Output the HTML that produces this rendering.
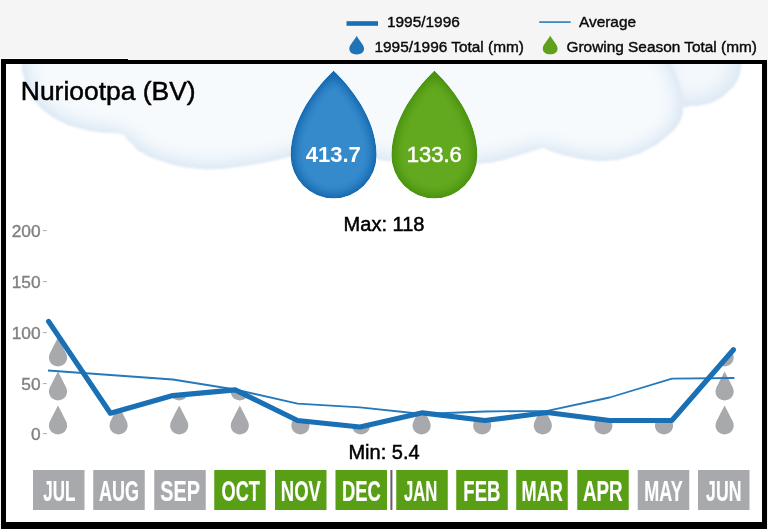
<!DOCTYPE html>
<html lang="en">
<head>
<meta charset="utf-8">
<title>Nuriootpa (BV) rainfall</title>
<style>
html,body{margin:0;padding:0;background:#f5f5f5;}
body{width:768px;height:529px;overflow:hidden;position:relative;font-family:"Liberation Sans",Arial,Helvetica,sans-serif;}
svg{position:absolute;left:0;top:0;display:block;}
text{font-family:"Liberation Sans",Arial,Helvetica,sans-serif;}
.lg{font-size:15.4px;fill:#0a0a0a;stroke:#0a0a0a;stroke-width:0.4px;}
.ax{font-size:16.5px;fill:#808080;stroke:#808080;stroke-width:0.35px;text-anchor:end;}
.mo{font-size:29px;font-weight:bold;fill:#fff;stroke:#fff;stroke-width:0.2px;}
.bk{fill:#000;stroke:#000;stroke-width:0.5px;}
</style>
</head>
<body>
<svg width="768" height="529" viewBox="0 0 768 529">
<defs>
<filter id="cloud" x="-5%" y="-20%" width="110%" height="140%" color-interpolation-filters="sRGB">
<feGaussianBlur in="SourceAlpha" stdDeviation="13" result="blur"/>
<feComponentTransfer in="blur" result="t"><feFuncA type="linear" slope="2.1" intercept="-1.05"/></feComponentTransfer>
<feFlood flood-color="#f6fafd" result="innerc"/>
<feComposite in="innerc" in2="t" operator="in" result="innerLayer"/>
<feFlood flood-color="#dfeaf5" result="rimc"/>
<feComposite in="rimc" in2="SourceAlpha" operator="in" result="rimLayer"/>
<feMerge result="m"><feMergeNode in="rimLayer"/><feMergeNode in="innerLayer"/></feMerge>
<feComposite in="m" in2="SourceAlpha" operator="in" result="c"/>
<feGaussianBlur in="c" stdDeviation="1"/>
</filter>
<filter id="cloudE" x="-30%" y="-30%" width="160%" height="160%" color-interpolation-filters="sRGB">
<feGaussianBlur in="SourceAlpha" stdDeviation="14" result="blur"/>
<feComponentTransfer in="blur" result="t"><feFuncA type="linear" slope="2.1" intercept="-1.05"/></feComponentTransfer>
<feFlood flood-color="#f3f8fc" result="innerc"/>
<feComposite in="innerc" in2="t" operator="in" result="innerLayer"/>
<feFlood flood-color="#dfeaf5" result="rimc"/>
<feComposite in="rimc" in2="SourceAlpha" operator="in" result="rimLayer"/>
<feMerge result="m"><feMergeNode in="rimLayer"/><feMergeNode in="innerLayer"/></feMerge>
<feComposite in="m" in2="SourceAlpha" operator="in" result="c"/>
<feGaussianBlur in="c" stdDeviation="1"/>
</filter>
<filter id="fb" x="-10%" y="-10%" width="120%" height="120%" color-interpolation-filters="sRGB">
<feGaussianBlur in="SourceAlpha" stdDeviation="8" result="blur"/>
<feComponentTransfer in="blur" result="t"><feFuncA type="linear" slope="2.2" intercept="-1.1"/></feComponentTransfer>
<feFlood flood-color="#358acc" result="innerc"/>
<feComposite in="innerc" in2="t" operator="in" result="innerLayer"/>
<feMerge result="m"><feMergeNode in="SourceGraphic"/><feMergeNode in="innerLayer"/></feMerge>
<feComposite in="m" in2="SourceAlpha" operator="in"/>
</filter>
<filter id="fg" x="-10%" y="-10%" width="120%" height="120%" color-interpolation-filters="sRGB">
<feGaussianBlur in="SourceAlpha" stdDeviation="8" result="blur"/>
<feComponentTransfer in="blur" result="t"><feFuncA type="linear" slope="2.2" intercept="-1.1"/></feComponentTransfer>
<feFlood flood-color="#63a91f" result="innerc"/>
<feComposite in="innerc" in2="t" operator="in" result="innerLayer"/>
<feMerge result="m"><feMergeNode in="SourceGraphic"/><feMergeNode in="innerLayer"/></feMerge>
<feComposite in="m" in2="SourceAlpha" operator="in"/>
</filter>
<clipPath id="inner"><rect x="6" y="64" width="756" height="458"/></clipPath>
<clipPath id="area"><polygon points="48.0,321.0 110.4,413.2 172.8,395.6 235.2,389.8 297.6,420.5 360.0,427.0 422.4,412.8 484.8,420.5 547.2,412.5 609.6,420.5 672.0,420.3 734.4,350.0 735.4,350.0 735.4,440 48.0,440"/></clipPath>
</defs>
<rect x="0" y="0" width="768" height="529" fill="#f5f5f5"/>
<rect x="0" y="58" width="128" height="1" fill="#fff"/>
<rect x="1" y="60" width="766" height="469" fill="#000"/>
<rect x="1" y="59" width="127" height="2" fill="#000"/>
<rect x="6" y="64" width="756" height="458" fill="#fff"/>
<g clip-path="url(#inner)"><path d="M660,0 L660,40 C660.7,53.3 658.7,60.0 662.0,80.0 C665.3,100.0 663.0,91.0 670.0,100.0 C677.0,109.0 675.9,104.8 683.0,106.9 C690.1,109.0 684.4,107.0 691.3,106.3 C698.2,105.6 695.5,106.7 703.8,104.8 C712.1,102.9 708.0,105.1 716.3,100.6 C724.6,96.1 721.8,97.9 728.8,91.3 C735.8,84.7 733.0,88.5 737.2,80.8 C741.4,73.1 739.8,73.8 741.3,68.3 C742.8,62.8 741.5,73.6 741.6,64.2 C741.7,54.8 741.6,48.1 741.6,40.0 L741.6,0 Z" fill="#dbe7f2" filter="url(#cloudE)"/><path d="M21.6,0 L21.6,40 C21.6,48.1 20.9,52.0 21.6,64.2 C22.3,76.4 21.6,68.4 23.7,76.7 C25.8,85.0 24.1,80.9 27.9,89.2 C31.7,97.5 29.3,94.1 35.2,101.7 C41.1,109.3 37.3,105.4 45.6,112.0 C53.9,118.6 49.8,116.3 60.2,121.5 C70.6,126.7 65.0,124.2 76.8,127.7 C88.6,131.2 83.1,130.0 95.6,131.9 C108.1,133.8 104.9,132.3 114.3,133.3 C123.7,134.3 120.6,134.4 123.7,135.0 C126.1,137.8 124.4,137.0 131.0,143.3 C137.6,149.6 133.0,147.7 143.5,153.8 C154.0,159.9 150.7,157.3 162.5,161.5 C174.3,165.7 167.8,163.9 179.0,166.3 C190.2,168.7 184.8,167.8 196.0,168.8 C207.2,169.8 200.2,169.8 212.5,169.4 C224.8,169.0 219.2,169.3 233.0,167.7 C246.8,166.1 240.0,167.0 254.0,164.6 C268.0,162.2 262.4,163.2 275.0,160.4 C287.6,157.6 278.4,160.1 291.7,156.3 C305.0,152.5 300.6,152.8 315.0,149.0 C329.4,145.2 328.3,146.3 335.0,145.0 C341.7,147.7 341.2,148.3 355.0,153.0 C368.8,157.7 364.1,156.2 376.4,159.2 C388.7,162.2 379.1,159.8 392.0,161.9 C404.9,164.0 399.0,163.8 415.0,165.5 C431.0,167.2 425.0,166.7 440.0,167.0 C455.0,167.3 447.2,167.3 460.0,166.3 C472.8,165.3 466.6,165.5 478.3,164.0 C490.0,162.5 483.9,164.0 495.0,161.9 C506.1,159.8 500.6,160.8 511.7,157.7 C522.8,154.6 517.9,155.7 528.3,152.5 C538.7,149.3 538.1,149.5 543.0,148.0 C547.8,149.8 547.1,150.3 557.5,153.5 C567.9,156.7 563.1,155.4 574.2,157.7 C585.3,160.0 579.7,159.4 590.8,160.4 C601.9,161.4 594.8,162.0 607.5,160.8 C620.2,159.6 614.7,161.0 628.8,156.9 C642.9,152.8 637.2,155.1 649.7,148.5 C662.2,141.9 657.3,144.3 666.3,137.0 C675.3,129.7 671.6,133.6 676.8,126.7 C682.0,119.8 679.9,122.9 682.0,116.3 C684.1,109.7 683.2,115.0 683.0,106.9 C682.8,98.8 683.5,102.3 681.5,92.0 C679.5,81.7 680.7,85.3 677.0,76.0 C673.3,66.7 677.8,76.0 670.5,64.0 C663.2,52.0 660.2,48.0 655.0,40.0 L655,0 Z" fill="#dbe7f2" filter="url(#cloud)"/></g>
<rect x="346.5" y="21.2" width="31.5" height="4.6" fill="#1a70b5"/>
<text class="lg" x="387" y="26.8">1995/1996</text>
<rect x="539.2" y="21.3" width="31.5" height="1.6" fill="#2b7dbd"/>
<text class="lg" x="579" y="26.8">Average</text>
<path d="M0,-18.8 C1.6,-15 7.4,-9.6 7.4,-5.9 C7.4,-2.1 4.4,0 0,0 C-4.4,0 -7.4,-2.1 -7.4,-5.9 C-7.4,-9.6 -1.6,-15 0,-18.8Z" transform="translate(356.7,54.5)" fill="#1f73b7"/>
<text class="lg" x="374.5" y="51.7">1995/1996 Total (mm)</text>
<path d="M0,-18.8 C1.6,-15 7.4,-9.6 7.4,-5.9 C7.4,-2.1 4.4,0 0,0 C-4.4,0 -7.4,-2.1 -7.4,-5.9 C-7.4,-9.6 -1.6,-15 0,-18.8Z" transform="translate(550.2,54.3)" fill="#5da21a"/>
<text class="lg" x="566.5" y="51.7">Growing Season Total (mm)</text>
<text class="bk" x="20.8" y="100" font-size="26.45">Nuriootpa (BV)</text>
<path d="M333.60,70.40 C357.68,93.78 376.60,123.95 376.60,155.40 A43.00,43.00 0 1 1 290.60,155.40 C290.60,123.95 309.52,93.78 333.60,70.40Z" fill="#186bb0" filter="url(#fb)"/>
<path d="M434.40,70.40 C458.48,93.78 477.40,123.95 477.40,155.40 A43.00,43.00 0 1 1 391.40,155.40 C391.40,123.95 410.32,93.78 434.40,70.40Z" fill="#4b9410" filter="url(#fg)"/>
<text x="333.3" y="161.8" font-size="22" font-weight="bold" fill="#fff" text-anchor="middle">413.7</text>
<text x="434.3" y="161.8" font-size="22" fill="#fff" stroke="#fff" stroke-width="0.5" text-anchor="middle">133.6</text>
<text class="bk" x="384" y="230.5" font-size="20" text-anchor="middle">Max: 118</text>
<text class="bk" x="384" y="459.2" font-size="20" text-anchor="middle">Min: 5.4</text>
<text class="ax" transform="translate(40.6,236.5) scale(1.05,1)">200</text>
<rect x="42.9" y="230.0" width="3.8" height="1.1" fill="#b0b0b0"/>
<text class="ax" transform="translate(40.6,287.5) scale(1.05,1)">150</text>
<rect x="42.9" y="281.0" width="3.8" height="1.1" fill="#b0b0b0"/>
<text class="ax" transform="translate(40.6,338.5) scale(1.05,1)">100</text>
<rect x="42.9" y="332.0" width="3.8" height="1.1" fill="#b0b0b0"/>
<text class="ax" transform="translate(40.6,389.5) scale(1.05,1)">50</text>
<rect x="42.9" y="383.0" width="3.8" height="1.1" fill="#b0b0b0"/>
<text class="ax" transform="translate(40.6,439.5) scale(1.05,1)">0</text>
<rect x="42.9" y="433.0" width="3.8" height="1.1" fill="#b0b0b0"/>
<g clip-path="url(#area)" fill="#a7a9ac">
<path d="M58.00,405.50 C60.43,410.22 63.66,416.52 66.09,421.24 A9.10,9.10 0 1 1 49.91,421.24 C52.34,416.52 55.57,410.22 58.00,405.50Z"/><path d="M58.00,371.50 C60.43,376.22 63.66,382.52 66.09,387.24 A9.10,9.10 0 1 1 49.91,387.24 C52.34,382.52 55.57,376.22 58.00,371.50Z"/><path d="M58.00,337.50 C60.43,342.22 63.66,348.52 66.09,353.24 A9.10,9.10 0 1 1 49.91,353.24 C52.34,348.52 55.57,342.22 58.00,337.50Z"/><path d="M58.00,303.50 C60.43,308.22 63.66,314.52 66.09,319.24 A9.10,9.10 0 1 1 49.91,319.24 C52.34,314.52 55.57,308.22 58.00,303.50Z"/>
<path d="M118.60,405.50 C121.03,410.22 124.26,416.52 126.69,421.24 A9.10,9.10 0 1 1 110.51,421.24 C112.94,416.52 116.17,410.22 118.60,405.50Z"/><path d="M118.60,371.50 C121.03,376.22 124.26,382.52 126.69,387.24 A9.10,9.10 0 1 1 110.51,387.24 C112.94,382.52 116.17,376.22 118.60,371.50Z"/><path d="M118.60,337.50 C121.03,342.22 124.26,348.52 126.69,353.24 A9.10,9.10 0 1 1 110.51,353.24 C112.94,348.52 116.17,342.22 118.60,337.50Z"/><path d="M118.60,303.50 C121.03,308.22 124.26,314.52 126.69,319.24 A9.10,9.10 0 1 1 110.51,319.24 C112.94,314.52 116.17,308.22 118.60,303.50Z"/>
<path d="M179.20,405.50 C181.63,410.22 184.86,416.52 187.29,421.24 A9.10,9.10 0 1 1 171.11,421.24 C173.54,416.52 176.77,410.22 179.20,405.50Z"/><path d="M179.20,371.50 C181.63,376.22 184.86,382.52 187.29,387.24 A9.10,9.10 0 1 1 171.11,387.24 C173.54,382.52 176.77,376.22 179.20,371.50Z"/><path d="M179.20,337.50 C181.63,342.22 184.86,348.52 187.29,353.24 A9.10,9.10 0 1 1 171.11,353.24 C173.54,348.52 176.77,342.22 179.20,337.50Z"/><path d="M179.20,303.50 C181.63,308.22 184.86,314.52 187.29,319.24 A9.10,9.10 0 1 1 171.11,319.24 C173.54,314.52 176.77,308.22 179.20,303.50Z"/>
<path d="M239.80,405.50 C242.23,410.22 245.46,416.52 247.89,421.24 A9.10,9.10 0 1 1 231.71,421.24 C234.14,416.52 237.37,410.22 239.80,405.50Z"/><path d="M239.80,371.50 C242.23,376.22 245.46,382.52 247.89,387.24 A9.10,9.10 0 1 1 231.71,387.24 C234.14,382.52 237.37,376.22 239.80,371.50Z"/><path d="M239.80,337.50 C242.23,342.22 245.46,348.52 247.89,353.24 A9.10,9.10 0 1 1 231.71,353.24 C234.14,348.52 237.37,342.22 239.80,337.50Z"/><path d="M239.80,303.50 C242.23,308.22 245.46,314.52 247.89,319.24 A9.10,9.10 0 1 1 231.71,319.24 C234.14,314.52 237.37,308.22 239.80,303.50Z"/>
<path d="M300.40,405.50 C302.83,410.22 306.06,416.52 308.49,421.24 A9.10,9.10 0 1 1 292.31,421.24 C294.74,416.52 297.97,410.22 300.40,405.50Z"/><path d="M300.40,371.50 C302.83,376.22 306.06,382.52 308.49,387.24 A9.10,9.10 0 1 1 292.31,387.24 C294.74,382.52 297.97,376.22 300.40,371.50Z"/><path d="M300.40,337.50 C302.83,342.22 306.06,348.52 308.49,353.24 A9.10,9.10 0 1 1 292.31,353.24 C294.74,348.52 297.97,342.22 300.40,337.50Z"/><path d="M300.40,303.50 C302.83,308.22 306.06,314.52 308.49,319.24 A9.10,9.10 0 1 1 292.31,319.24 C294.74,314.52 297.97,308.22 300.40,303.50Z"/>
<path d="M361.00,405.50 C363.43,410.22 366.66,416.52 369.09,421.24 A9.10,9.10 0 1 1 352.91,421.24 C355.34,416.52 358.57,410.22 361.00,405.50Z"/><path d="M361.00,371.50 C363.43,376.22 366.66,382.52 369.09,387.24 A9.10,9.10 0 1 1 352.91,387.24 C355.34,382.52 358.57,376.22 361.00,371.50Z"/><path d="M361.00,337.50 C363.43,342.22 366.66,348.52 369.09,353.24 A9.10,9.10 0 1 1 352.91,353.24 C355.34,348.52 358.57,342.22 361.00,337.50Z"/><path d="M361.00,303.50 C363.43,308.22 366.66,314.52 369.09,319.24 A9.10,9.10 0 1 1 352.91,319.24 C355.34,314.52 358.57,308.22 361.00,303.50Z"/>
<path d="M421.60,405.50 C424.03,410.22 427.26,416.52 429.69,421.24 A9.10,9.10 0 1 1 413.51,421.24 C415.94,416.52 419.17,410.22 421.60,405.50Z"/><path d="M421.60,371.50 C424.03,376.22 427.26,382.52 429.69,387.24 A9.10,9.10 0 1 1 413.51,387.24 C415.94,382.52 419.17,376.22 421.60,371.50Z"/><path d="M421.60,337.50 C424.03,342.22 427.26,348.52 429.69,353.24 A9.10,9.10 0 1 1 413.51,353.24 C415.94,348.52 419.17,342.22 421.60,337.50Z"/><path d="M421.60,303.50 C424.03,308.22 427.26,314.52 429.69,319.24 A9.10,9.10 0 1 1 413.51,319.24 C415.94,314.52 419.17,308.22 421.60,303.50Z"/>
<path d="M482.20,405.50 C484.63,410.22 487.86,416.52 490.29,421.24 A9.10,9.10 0 1 1 474.11,421.24 C476.54,416.52 479.77,410.22 482.20,405.50Z"/><path d="M482.20,371.50 C484.63,376.22 487.86,382.52 490.29,387.24 A9.10,9.10 0 1 1 474.11,387.24 C476.54,382.52 479.77,376.22 482.20,371.50Z"/><path d="M482.20,337.50 C484.63,342.22 487.86,348.52 490.29,353.24 A9.10,9.10 0 1 1 474.11,353.24 C476.54,348.52 479.77,342.22 482.20,337.50Z"/><path d="M482.20,303.50 C484.63,308.22 487.86,314.52 490.29,319.24 A9.10,9.10 0 1 1 474.11,319.24 C476.54,314.52 479.77,308.22 482.20,303.50Z"/>
<path d="M542.80,405.50 C545.23,410.22 548.46,416.52 550.89,421.24 A9.10,9.10 0 1 1 534.71,421.24 C537.14,416.52 540.37,410.22 542.80,405.50Z"/><path d="M542.80,371.50 C545.23,376.22 548.46,382.52 550.89,387.24 A9.10,9.10 0 1 1 534.71,387.24 C537.14,382.52 540.37,376.22 542.80,371.50Z"/><path d="M542.80,337.50 C545.23,342.22 548.46,348.52 550.89,353.24 A9.10,9.10 0 1 1 534.71,353.24 C537.14,348.52 540.37,342.22 542.80,337.50Z"/><path d="M542.80,303.50 C545.23,308.22 548.46,314.52 550.89,319.24 A9.10,9.10 0 1 1 534.71,319.24 C537.14,314.52 540.37,308.22 542.80,303.50Z"/>
<path d="M603.40,405.50 C605.83,410.22 609.06,416.52 611.49,421.24 A9.10,9.10 0 1 1 595.31,421.24 C597.74,416.52 600.97,410.22 603.40,405.50Z"/><path d="M603.40,371.50 C605.83,376.22 609.06,382.52 611.49,387.24 A9.10,9.10 0 1 1 595.31,387.24 C597.74,382.52 600.97,376.22 603.40,371.50Z"/><path d="M603.40,337.50 C605.83,342.22 609.06,348.52 611.49,353.24 A9.10,9.10 0 1 1 595.31,353.24 C597.74,348.52 600.97,342.22 603.40,337.50Z"/><path d="M603.40,303.50 C605.83,308.22 609.06,314.52 611.49,319.24 A9.10,9.10 0 1 1 595.31,319.24 C597.74,314.52 600.97,308.22 603.40,303.50Z"/>
<path d="M664.00,405.50 C666.43,410.22 669.66,416.52 672.09,421.24 A9.10,9.10 0 1 1 655.91,421.24 C658.34,416.52 661.57,410.22 664.00,405.50Z"/><path d="M664.00,371.50 C666.43,376.22 669.66,382.52 672.09,387.24 A9.10,9.10 0 1 1 655.91,387.24 C658.34,382.52 661.57,376.22 664.00,371.50Z"/><path d="M664.00,337.50 C666.43,342.22 669.66,348.52 672.09,353.24 A9.10,9.10 0 1 1 655.91,353.24 C658.34,348.52 661.57,342.22 664.00,337.50Z"/><path d="M664.00,303.50 C666.43,308.22 669.66,314.52 672.09,319.24 A9.10,9.10 0 1 1 655.91,319.24 C658.34,314.52 661.57,308.22 664.00,303.50Z"/>
<path d="M724.60,405.50 C727.03,410.22 730.26,416.52 732.69,421.24 A9.10,9.10 0 1 1 716.51,421.24 C718.94,416.52 722.17,410.22 724.60,405.50Z"/><path d="M724.60,371.50 C727.03,376.22 730.26,382.52 732.69,387.24 A9.10,9.10 0 1 1 716.51,387.24 C718.94,382.52 722.17,376.22 724.60,371.50Z"/><path d="M724.60,337.50 C727.03,342.22 730.26,348.52 732.69,353.24 A9.10,9.10 0 1 1 716.51,353.24 C718.94,348.52 722.17,342.22 724.60,337.50Z"/><path d="M724.60,303.50 C727.03,308.22 730.26,314.52 732.69,319.24 A9.10,9.10 0 1 1 716.51,319.24 C718.94,314.52 722.17,308.22 724.60,303.50Z"/>
</g>
<polyline fill="none" stroke="#2579bb" stroke-width="1.8" stroke-linejoin="round" points="48.0,370.5 110.4,375.0 172.8,379.5 235.2,389.5 297.6,403.7 360.0,407.3 422.4,414.0 484.8,411.5 547.2,410.8 609.6,397.5 672.0,378.6 734.4,378.0"/>
<polyline fill="none" stroke="#1a70b5" stroke-width="5.2" stroke-linejoin="round" stroke-linecap="round" points="48.6,321.4 110.4,413.2 172.8,395.6 235.2,389.8 297.6,420.5 360.0,427.0 422.4,412.8 484.8,420.5 547.2,412.5 609.6,420.5 672.0,420.3 733.4,349.7"/>
<rect x="33" y="470" width="51.5" height="40" fill="#a7a9ac"/>
<text class="mo" x="43.35" y="500.8" textLength="32.05" lengthAdjust="spacingAndGlyphs">JUL</text>
<rect x="93.25" y="470" width="51.5" height="40" fill="#a7a9ac"/>
<text class="mo" x="99.10" y="500.8" textLength="40.05" lengthAdjust="spacingAndGlyphs">AUG</text>
<rect x="154.25" y="470" width="51.5" height="40" fill="#a7a9ac"/>
<text class="mo" x="160.35" y="500.8" textLength="39.55" lengthAdjust="spacingAndGlyphs">SEP</text>
<rect x="214.25" y="470" width="51.5" height="40" fill="#589f16"/>
<text class="mo" x="221.60" y="500.8" textLength="38.30" lengthAdjust="spacingAndGlyphs">OCT</text>
<rect x="275" y="470" width="51.5" height="40" fill="#589f16"/>
<text class="mo" x="280.85" y="500.8" textLength="40.05" lengthAdjust="spacingAndGlyphs">NOV</text>
<rect x="335.5" y="470" width="51.5" height="40" fill="#589f16"/>
<text class="mo" x="342.10" y="500.8" textLength="38.80" lengthAdjust="spacingAndGlyphs">DEC</text>
<rect x="396.25" y="470" width="51.5" height="40" fill="#589f16"/>
<text class="mo" x="404.10" y="500.8" textLength="33.30" lengthAdjust="spacingAndGlyphs">JAN</text>
<rect x="456.25" y="470" width="51.5" height="40" fill="#589f16"/>
<text class="mo" x="463.35" y="500.8" textLength="37.05" lengthAdjust="spacingAndGlyphs">FEB</text>
<rect x="516.25" y="470" width="51.5" height="40" fill="#589f16"/>
<text class="mo" x="521.60" y="500.8" textLength="41.30" lengthAdjust="spacingAndGlyphs">MAR</text>
<rect x="577.25" y="470" width="51.5" height="40" fill="#589f16"/>
<text class="mo" x="583.10" y="500.8" textLength="39.55" lengthAdjust="spacingAndGlyphs">APR</text>
<rect x="637.75" y="470" width="51.5" height="40" fill="#a7a9ac"/>
<text class="mo" x="644.35" y="500.8" textLength="38.30" lengthAdjust="spacingAndGlyphs">MAY</text>
<rect x="698" y="470" width="51.5" height="40" fill="#a7a9ac"/>
<text class="mo" x="706.10" y="500.8" textLength="35.30" lengthAdjust="spacingAndGlyphs">JUN</text>
<rect x="390.4" y="470" width="2" height="40" fill="#655f67"/>
</svg>
</body>
</html>
